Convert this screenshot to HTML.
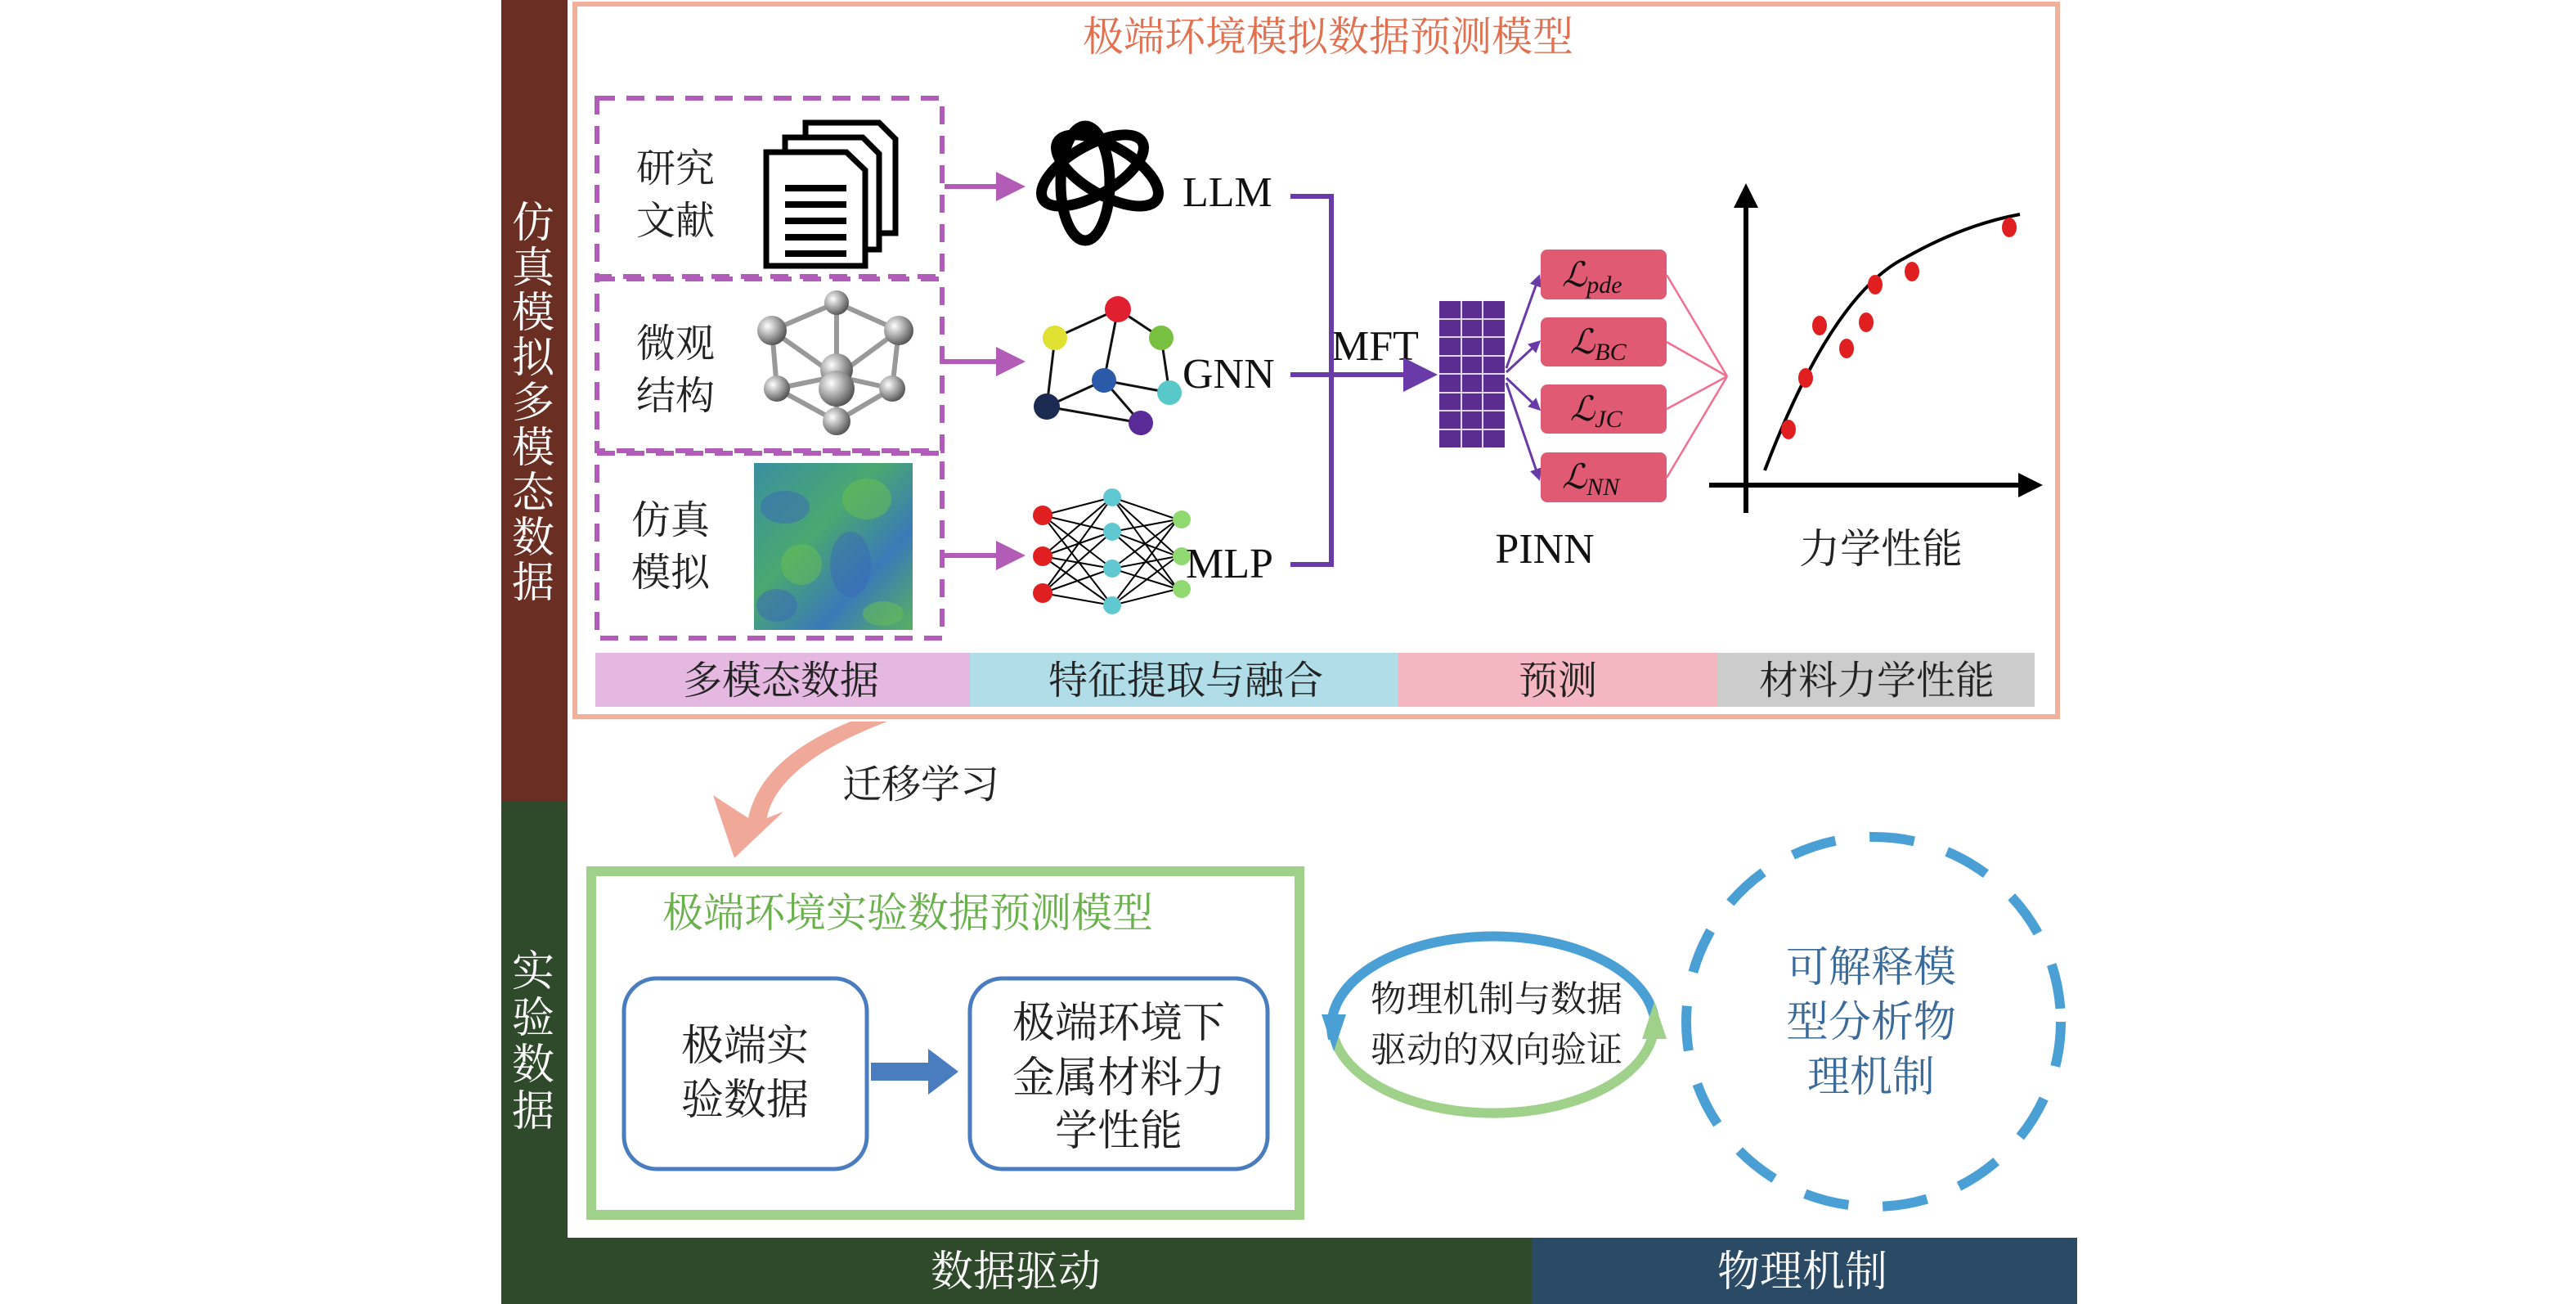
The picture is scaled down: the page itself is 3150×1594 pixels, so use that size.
<!DOCTYPE html>
<html><head><meta charset="utf-8"><style>
html,body{margin:0;padding:0;background:#fff;}
svg{display:block;}
text{font-family:"Liberation Sans","Noto Sans CJK SC",sans-serif;}
.cn text, text.cn{font-family:"Liberation Serif","Noto Serif CJK SC","Noto Sans CJK SC",serif;}
.en text, text.en{font-family:"Liberation Serif",serif;}
</style></head><body>
<svg width="3150" height="1594" viewBox="0 0 3150 1594" xmlns="http://www.w3.org/2000/svg">
<defs>
<marker id="ap" markerWidth="6" markerHeight="6" refX="5" refY="3" orient="auto" markerUnits="strokeWidth"><path d="M0,0 L6,3 L0,6 z" fill="#b25cb8"/></marker>
<marker id="av" markerWidth="5" markerHeight="5" refX="4" refY="2.5" orient="auto" markerUnits="strokeWidth"><path d="M0,0 L5,2.5 L0,5 z" fill="#6a3aa8"/></marker>
<marker id="ak" markerWidth="5" markerHeight="5" refX="4" refY="2.5" orient="auto" markerUnits="strokeWidth"><path d="M0,0 L5,2.5 L0,5 z" fill="#000"/></marker>
<marker id="avs" markerWidth="7" markerHeight="7" refX="6" refY="3.5" orient="auto" markerUnits="strokeWidth"><path d="M0,0 L7,3.5 L0,7 z" fill="#6a3aa8"/></marker>
<linearGradient id="hm" x1="0" y1="0" x2="1" y2="1"><stop offset="0" stop-color="#3a8fa0"/><stop offset="0.4" stop-color="#4aa870"/><stop offset="0.7" stop-color="#3a7ab8"/><stop offset="1" stop-color="#5ab060"/></linearGradient>
<radialGradient id="ball" cx="0.35" cy="0.35" r="0.7"><stop offset="0" stop-color="#fff"/><stop offset="0.5" stop-color="#a8a8a8"/><stop offset="1" stop-color="#505050"/></radialGradient>
</defs>

<rect x="613" y="0" width="81" height="979" fill="#6b2e22"/>
<rect x="613" y="979" width="81" height="615" fill="#2e4a2a"/>
<rect x="613" y="1513" width="1260" height="81" fill="#2e4a2a"/>
<rect x="1873" y="1513" width="667" height="81" fill="#2a4a66"/>
<g class="cn" font-size="52" fill="#fff" text-anchor="middle">
<text x="652" y="290">仿</text><text x="652" y="345">真</text><text x="652" y="400">模</text><text x="652" y="455">拟</text><text x="652" y="510">多</text><text x="652" y="565">模</text><text x="652" y="620">态</text><text x="652" y="675">数</text><text x="652" y="730">据</text>
<text x="652" y="1205">实</text><text x="652" y="1262">验</text><text x="652" y="1319">数</text><text x="652" y="1376">据</text>
<text x="1242" y="1572">数据驱动</text><text x="2204" y="1572">物理机制</text>
</g>

<rect x="703" y="5" width="1813" height="871" fill="none" stroke="#f0b09c" stroke-width="6"/>
<text class="cn" x="1624" y="62" font-size="50" fill="#e07050" text-anchor="middle">极端环境模拟数据预测模型</text>

<g fill="none" stroke="#b05cb8" stroke-width="6" stroke-dasharray="22,14">
<rect x="730" y="120" width="422" height="218"/>
<rect x="730" y="341" width="422" height="210"/>
<rect x="730" y="554" width="422" height="226"/>
</g>
<g class="cn" font-size="48" fill="#222">
<text x="778" y="222">研究</text><text x="778" y="286">文献</text>
<text x="778" y="436">微观</text><text x="778" y="500">结构</text>
<text x="772" y="652">仿真</text><text x="772" y="716">模拟</text>
</g>
<g stroke="#000" stroke-width="7" fill="#fff">
<path d="M985,150 H1075 L1095,170 V285 H985 Z"/>
<path d="M960,168 H1055 L1075,188 V305 H960 Z"/>
<path d="M937,186 H1035 L1058,208 V325 H937 Z"/>
</g>
<g stroke="#000" stroke-width="8"><line x1="960" y1="230" x2="1035" y2="230"/><line x1="960" y1="250" x2="1035" y2="250"/><line x1="960" y1="270" x2="1035" y2="270"/><line x1="960" y1="290" x2="1035" y2="290"/><line x1="960" y1="310" x2="1035" y2="310"/></g>
<g stroke="#999" stroke-width="6">
<line x1="1023" y1="370" x2="944" y2="404"/><line x1="1023" y1="370" x2="1099" y2="404"/><line x1="1023" y1="370" x2="1023" y2="460"/>
<line x1="944" y1="404" x2="950" y2="475"/><line x1="1099" y1="404" x2="1091" y2="475"/><line x1="944" y1="404" x2="1023" y2="460"/><line x1="1099" y1="404" x2="1023" y2="460"/>
<line x1="950" y1="475" x2="1023" y2="460"/><line x1="1091" y1="475" x2="1023" y2="460"/><line x1="950" y1="475" x2="1023" y2="515"/><line x1="1091" y1="475" x2="1023" y2="515"/><line x1="1023" y1="460" x2="1023" y2="515"/>
</g>
<g fill="url(#ball)"><circle cx="1023" cy="370" r="15"/><circle cx="944" cy="404" r="18"/><circle cx="1099" cy="404" r="18"/><circle cx="1023" cy="452" r="20"/><circle cx="1023" cy="475" r="22"/><circle cx="950" cy="475" r="16"/><circle cx="1091" cy="475" r="16"/><circle cx="1023" cy="515" r="17"/></g>
<rect x="922" y="566" width="194" height="204" fill="url(#hm)"/>
<g fill="#3a68b8" opacity="0.5"><ellipse cx="960" cy="620" rx="30" ry="20"/><ellipse cx="1040" cy="690" rx="25" ry="40"/><ellipse cx="950" cy="740" rx="25" ry="20"/></g>
<g fill="#6ac050" opacity="0.5"><ellipse cx="1060" cy="610" rx="30" ry="25"/><ellipse cx="980" cy="690" rx="25" ry="25"/><ellipse cx="1080" cy="750" rx="25" ry="15"/></g>

<g stroke="#b25cb8" stroke-width="6" fill="none">
<line x1="1155" y1="228" x2="1248" y2="228" marker-end="url(#ap)"/>
<line x1="1155" y1="442" x2="1248" y2="442" marker-end="url(#ap)"/>
<line x1="1155" y1="679" x2="1248" y2="679" marker-end="url(#ap)"/>
</g>

<g fill="none" stroke="#000" stroke-width="13">
<g transform="translate(1345,224)">
<ellipse rx="30" ry="70" transform="rotate(0) translate(-18,0)"/>
<ellipse rx="30" ry="70" transform="rotate(60) translate(-18,0)"/>
<ellipse rx="30" ry="70" transform="rotate(120) translate(-18,0)"/>
</g></g>
<g stroke="#111" stroke-width="3">
<line x1="1367" y1="378" x2="1290" y2="413"/><line x1="1367" y1="378" x2="1350" y2="465"/><line x1="1367" y1="378" x2="1420" y2="413"/>
<line x1="1290" y1="413" x2="1280" y2="497"/><line x1="1350" y1="465" x2="1280" y2="497"/><line x1="1350" y1="465" x2="1430" y2="480"/><line x1="1350" y1="465" x2="1395" y2="517"/><line x1="1280" y1="497" x2="1395" y2="517"/><line x1="1420" y1="413" x2="1430" y2="480"/>
</g>
<circle cx="1367" cy="378" r="16" fill="#e02030"/><circle cx="1290" cy="413" r="15" fill="#e0e030"/><circle cx="1420" cy="413" r="15" fill="#78c040"/><circle cx="1350" cy="465" r="15" fill="#2a5aa8"/><circle cx="1430" cy="480" r="15" fill="#58c8c8"/><circle cx="1280" cy="497" r="16" fill="#1a2a50"/><circle cx="1395" cy="517" r="15" fill="#5a2a98"/>
<g stroke="#000" stroke-width="2">
<path d="M1275,630 L1360,608 M1275,630 L1360,650 M1275,630 L1360,695 M1275,630 L1360,740 M1275,680 L1360,608 M1275,680 L1360,650 M1275,680 L1360,695 M1275,680 L1360,740 M1275,725 L1360,608 M1275,725 L1360,650 M1275,725 L1360,695 M1275,725 L1360,740"/>
<path d="M1360,608 L1440,635 M1360,608 L1440,680 M1360,608 L1440,720 M1360,650 L1440,635 M1360,650 L1440,680 M1360,650 L1440,720 M1360,695 L1440,635 M1360,695 L1440,680 M1360,695 L1440,720 M1360,740 L1440,635 M1360,740 L1440,680 M1360,740 L1440,720"/>
</g>
<g fill="#e02020"><circle cx="1275" cy="630" r="12"/><circle cx="1275" cy="680" r="12"/><circle cx="1275" cy="725" r="12"/></g>
<g fill="#60c8d0"><circle cx="1360" cy="608" r="11"/><circle cx="1360" cy="650" r="11"/><circle cx="1360" cy="695" r="11"/><circle cx="1360" cy="740" r="11"/></g>
<g fill="#90d870"><circle cx="1445" cy="635" r="11"/><circle cx="1445" cy="680" r="11"/><circle cx="1445" cy="720" r="11"/></g>

<g class="en" font-size="52" fill="#111">
<text x="1446" y="252">LLM</text><text x="1446" y="474">GNN</text><text x="1450" y="706">MLP</text><text x="1628" y="440">MFT</text>
<text x="1889" y="688" text-anchor="middle">PINN</text>
</g>
<g stroke="#6a3aa8" stroke-width="6" fill="none">
<path d="M1578,240 H1628 V690 H1578"/>
<line x1="1578" y1="458" x2="1752" y2="458" marker-end="url(#avs)"/>
</g>
<rect x="1760" y="368" width="80" height="179" fill="#5b2d91"/>
<g stroke="#fff" stroke-width="2" opacity="0.8">
<line x1="1787" y1="368" x2="1787" y2="547"/><line x1="1813" y1="368" x2="1813" y2="547"/>
<line x1="1760" y1="390" x2="1840" y2="390"/><line x1="1760" y1="412" x2="1840" y2="412"/><line x1="1760" y1="435" x2="1840" y2="435"/><line x1="1760" y1="457" x2="1840" y2="457"/><line x1="1760" y1="480" x2="1840" y2="480"/><line x1="1760" y1="502" x2="1840" y2="502"/><line x1="1760" y1="525" x2="1840" y2="525"/>
</g>
<g stroke="#6a3aa8" stroke-width="3" fill="none">
<line x1="1842" y1="450" x2="1882" y2="338" marker-end="url(#av)"/>
<line x1="1842" y1="455" x2="1882" y2="418" marker-end="url(#av)"/>
<line x1="1842" y1="462" x2="1882" y2="500" marker-end="url(#av)"/>
<line x1="1842" y1="468" x2="1882" y2="585" marker-end="url(#av)"/>
</g>
<g fill="#e05a74">
<rect x="1884" y="305" width="154" height="61" rx="8"/><rect x="1884" y="388" width="154" height="60" rx="8"/><rect x="1884" y="470" width="154" height="60" rx="8"/><rect x="1884" y="553" width="154" height="61" rx="8"/>
</g>
<g class="en" font-size="42" font-style="italic" fill="#111">
<text x="1910" y="350">ℒ<tspan font-size="30" dy="8">pde</tspan></text>
<text x="1920" y="432">ℒ<tspan font-size="30" dy="8">BC</tspan></text>
<text x="1920" y="514">ℒ<tspan font-size="30" dy="8">JC</tspan></text>
<text x="1910" y="597">ℒ<tspan font-size="30" dy="8">NN</tspan></text>
</g>
<g stroke="#f07090" stroke-width="2.5" fill="none">
<line x1="2038" y1="336" x2="2112" y2="460"/><line x1="2038" y1="418" x2="2112" y2="460"/><line x1="2038" y1="500" x2="2112" y2="460"/><line x1="2038" y1="584" x2="2112" y2="460"/>
</g>
<g stroke="#000" stroke-width="6" fill="none">
<line x1="2135" y1="627" x2="2135" y2="230" marker-end="url(#ak)"/>
<line x1="2090" y1="593" x2="2492" y2="593" marker-end="url(#ak)"/>
<path d="M2158,575 Q2240,360 2330,315 Q2400,275 2470,262" stroke-width="4"/>
</g>
<g fill="#e02020">
<ellipse cx="2187" cy="525" rx="9" ry="12"/><ellipse cx="2208" cy="462" rx="9" ry="12"/><ellipse cx="2225" cy="398" rx="9" ry="12"/><ellipse cx="2258" cy="426" rx="9" ry="12"/><ellipse cx="2282" cy="394" rx="9" ry="12"/><ellipse cx="2293" cy="348" rx="9" ry="12"/><ellipse cx="2338" cy="332" rx="9" ry="12"/><ellipse cx="2457" cy="278" rx="9" ry="12"/>
</g>
<text class="cn" x="2300" y="688" font-size="50" fill="#222" text-anchor="middle">力学性能</text>

<rect x="728" y="798" width="458" height="66" fill="#e4b8e0"/>
<rect x="1186" y="798" width="524" height="66" fill="#b0dde8"/>
<rect x="1710" y="798" width="390" height="66" fill="#f4b6c0"/>
<rect x="2100" y="798" width="388" height="66" fill="#cccccc"/>
<g class="cn" font-size="48" fill="#222" text-anchor="middle">
<text x="955" y="848">多模态数据</text><text x="1450" y="848">特征提取与融合</text><text x="1905" y="848">预测</text><text x="2295" y="848">材料力学性能</text>
</g>

<path d="M1040,882 C960,915 925,955 915,1000 L872,972 L898,1049 L958,992 L938,1000 C945,960 990,918 1085,882 Z" fill="#f0a898"/>
<text class="cn" x="1030" y="975" font-size="48" fill="#222">迁移学习</text>

<rect x="723" y="1065" width="866" height="420" fill="none" stroke="#9fd18b" stroke-width="12"/>
<text class="cn" x="810" y="1133" font-size="50" fill="#6ab04c">极端环境实验数据预测模型</text>
<g fill="#fff" stroke="#4a7cc0" stroke-width="5">
<rect x="763" y="1196" width="297" height="233" rx="40"/>
<rect x="1186" y="1196" width="364" height="233" rx="40"/>
</g>
<path d="M1065,1299 H1135 V1282 L1172,1310 L1135,1338 V1321 H1065 Z" fill="#4a7cc0"/>
<g class="cn" font-size="52" fill="#222" text-anchor="middle">
<text x="911" y="1296">极端实</text><text x="911" y="1362">验数据</text>
<text x="1368" y="1268">极端环境下</text><text x="1368" y="1335">金属材料力</text><text x="1368" y="1400">学性能</text>
</g>

<path d="M1630,1270 A197,110 0 0 1 2022,1240" fill="none" stroke="#4a9fd4" stroke-width="12"/>
<path d="M1632,1270 A197,110 0 0 0 2022,1240" fill="none" stroke="#9fd18b" stroke-width="12"/>
<path d="M1616,1240 L1646,1240 L1631,1285 Z" fill="#4a9fd4"/>
<path d="M2008,1270 L2038,1270 L2023,1225 Z" fill="#9fd18b"/>
<g class="cn" font-size="44" fill="#222" text-anchor="middle">
<text x="1830" y="1236">物理机制与数据</text><text x="1830" y="1298">驱动的双向验证</text>
</g>
<ellipse cx="2291" cy="1249" rx="229" ry="226" fill="none" stroke="#4a9fd4" stroke-width="12" stroke-dasharray="55,42"/>
<g class="cn" font-size="52" fill="#3a6a99" text-anchor="middle">
<text x="2288" y="1200">可解释模</text><text x="2288" y="1267">型分析物</text><text x="2288" y="1334">理机制</text>
</g>
</svg>
</body></html>
